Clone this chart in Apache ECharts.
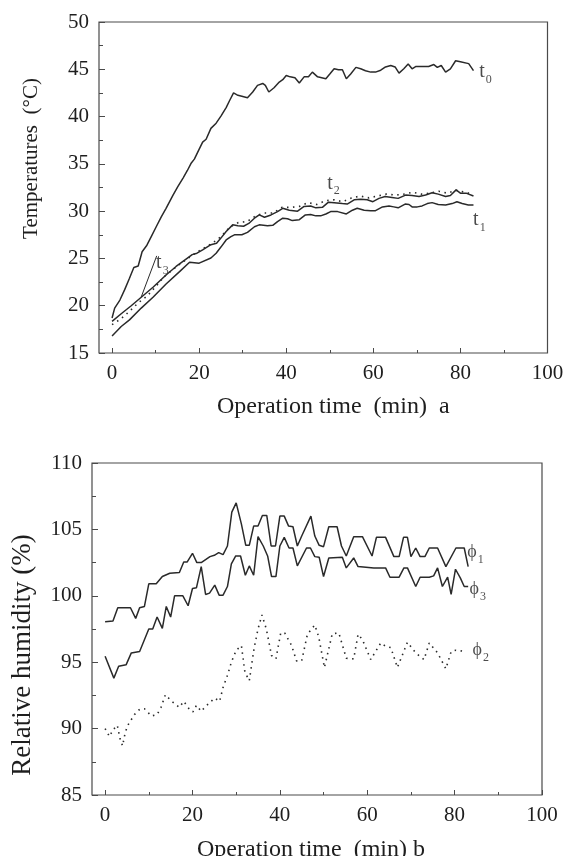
<!DOCTYPE html>
<html>
<head>
<meta charset="utf-8">
<script src="https://cdn.jsdelivr.net/npm/echarts@6/dist/echarts.min.js"></script>
<style>html,body{margin:0;padding:0;background:#fff}#c{width:574px;height:856px}</style>
</head>
<body>
<div id="c"></div>
<script>
// ---------- data ----------
const xTickMajor = [0, 20, 40, 60, 80, 100];
const xTickMinor = [10, 30, 50, 70, 90];
const tempRange = [15, 50];
const humRange = [85, 110];

// Temperatures (°C) vs operation time (min)
const t0 = [[0,18.7],[0.6,19.75],[1.8,20.6],[2.9,21.7],[4,22.9],[5,24.05],[6,24.2],[6.9,25.7],[8,26.4],[9,27.3],[10.2,28.4],[11.3,29.4],[12.4,30.3],[14,31.7],[15.1,32.6],[16.3,33.5],[17.3,34.3],[18.2,35.1],[18.9,35.5],[19.9,36.45],[20.8,37.3],[21.6,37.6],[22.7,38.75],[23.9,39.3],[25,40.05],[26.2,40.95],[27,41.7],[27.9,42.5],[28.9,42.25],[29.8,42.15],[31.1,42],[32.3,42.6],[33.4,43.3],[34.6,43.5],[35.2,43.3],[36,42.6],[37.2,43.05],[38.4,43.65],[39.2,43.9],[40,44.35],[40.9,44.2],[42,44.1],[43,43.55],[44.1,44.2],[45.1,44.2],[46,44.7],[47.2,44.2],[49.1,44.0],[50.1,44.55],[51,45.05],[52,44.95],[52.9,44.95],[53.8,44.0],[54.8,44.5],[56,45.2],[57.1,45.05],[58.2,44.85],[59.4,44.7],[60.5,44.7],[61.7,44.9],[62.8,45.25],[64,45.4],[65,45.25],[65.9,44.6],[67,45.05],[68,45.55],[68.9,45.05],[69.8,45.3],[70.8,45.3],[72.7,45.3],[73.9,45.5],[74.7,45.2],[75.6,45.4],[76.6,44.7],[77.7,45.05],[78.9,45.9],[80,45.8],[81.9,45.6],[83,44.85]];
const t1 = [[0,16.8],[2.1,17.8],[4,18.5],[6.7,19.75],[9.4,20.9],[12.4,22.3],[15.5,23.6],[17.8,24.6],[20,24.5],[22.7,25.05],[23.9,25.55],[25,26.2],[26.2,26.95],[27.3,27.3],[28.1,27.5],[29.8,27.5],[31.1,27.75],[32.7,28.35],[33.8,28.55],[35.7,28.45],[36.9,28.5],[38,28.9],[39.2,29.25],[40.3,29.2],[41.4,29.0],[43,29.1],[44.4,29.6],[45.6,29.65],[46.8,29.5],[47.9,29.5],[49.1,29.7],[50.2,29.95],[51.8,29.95],[53.8,29.7],[55.2,30.1],[56.3,30.3],[57.9,30.1],[59.4,30.05],[60.5,30.05],[62.1,30.45],[63.6,30.55],[64.7,30.45],[65.7,30.35],[67.3,30.75],[68.2,30.7],[68.9,30.45],[70.1,30.45],[71.2,30.55],[72.4,30.8],[73.5,30.9],[74.9,30.7],[76.6,30.65],[78.1,30.8],[79.2,31.0],[80.4,30.8],[81.8,30.65],[83,30.65]];
const t2 = [[0,18.0],[2,18.6],[4,19.4],[6,20.3],[8,21.0],[10,22.0],[12,23.1],[15,24.2],[18,25.2],[20,25.8],[23,26.6],[25,27.3],[27,28.3],[29,28.8],[31,28.9],[33,29.5],[35,29.8],[37,29.8],[39,30.4],[41,30.4],[43,30.5],[45,30.9],[47,30.7],[49,31.1],[51,31.2],[53,31.0],[55,31.4],[57,31.6],[59,31.4],[61,31.6],[63,31.8],[65,31.7],[67,31.8],[69,32.0],[71,31.8],[73,31.9],[75,32.1],[77,31.9],[79,32.2],[81,32.0],[83,31.8]];
const t3 = [[0,18.35],[2.1,19.15],[4.4,20.0],[6.7,20.9],[9.4,21.95],[12.4,23.25],[14.7,24.15],[16.6,24.8],[18.4,25.4],[19.5,25.55],[20.8,25.9],[22.7,26.45],[24,26.6],[25,27.15],[26.2,27.85],[27.7,28.55],[28.9,28.45],[30.2,28.4],[31.4,28.7],[32.7,29.25],[33.8,29.6],[35,29.35],[36.5,29.6],[38,29.95],[39.2,30.3],[40.7,30.1],[42.6,30.0],[44.1,30.5],[45.6,30.55],[46.8,30.35],[48.3,30.4],[49.7,30.95],[51,30.9],[52.9,30.8],[54,30.75],[55.6,31.2],[57.1,31.25],[58.6,31.2],[59.9,31.0],[61.3,31.35],[62.7,31.55],[64.3,31.45],[65.7,31.35],[67.4,31.7],[68.9,31.65],[70.5,31.55],[72,31.7],[73.5,31.95],[74.9,31.8],[76.6,31.55],[77.7,31.65],[79,32.25],[80,31.9],[81.3,31.9],[83,31.6]];

// Relative humidity (%) vs operation time (min)
const phi1 = [[0,98.05],[1.8,98.1],[2.9,99.1],[5.8,99.1],[7,98.3],[7.9,99.1],[9,99.2],[10,100.9],[11.7,100.9],[13.1,101.45],[14.8,101.7],[17,101.75],[18,102.55],[18.8,102.55],[20,103.2],[21,102.5],[22,102.5],[24,102.95],[25,103.05],[26,103.25],[27,103.1],[28,103.75],[29,106.3],[30,107.0],[31.2,105.4],[32.2,103.8],[33,103.8],[34,105.25],[35,105.25],[36,106.05],[37,106.05],[38,103.75],[39,103.75],[40,106.0],[41,106.0],[42,105.25],[43,105.2],[44,103.75],[45,104.5],[47.1,106.0],[48,104.5],[49,103.8],[50,103.7],[51.2,105.2],[53.1,105.2],[54.1,103.75],[55.2,103.0],[56.9,104.45],[58.9,104.45],[61.1,103.0],[62.1,104.4],[64.2,104.4],[66.1,102.95],[67.3,102.95],[68.3,104.4],[69.2,104.4],[70,102.95],[71.1,103.6],[72.1,102.95],[73.2,102.95],[74.2,103.6],[76.1,103.6],[78,102.2],[80.3,103.6],[82.2,103.6],[83.1,102.2]];
const phi2 = [[0,90.0],[1,89.4],[1.8,89.9],[2.8,90.25],[3.4,89.25],[4,88.7],[4.6,89.7],[5.2,90.25],[6.7,91.05],[7.9,91.45],[9,91.5],[10.6,90.95],[11.9,91.05],[12.8,91.6],[13.8,92.55],[15.1,92.1],[17,91.6],[18,92.05],[19.2,91.5],[20.1,91.25],[20.9,91.75],[22,91.3],[22.8,91.6],[23.9,91.95],[25.1,92.3],[26.2,92.05],[27,93.1],[28.1,94.1],[28.9,95.0],[30,95.9],[31.2,96.25],[32,94.25],[33,93.6],[34.1,96.05],[35,97.5],[35.9,98.55],[36.9,97.5],[38.1,95.5],[39.1,95.25],[40.2,97.2],[41.1,97.2],[42.7,96.25],[43.8,95.1],[45,95.1],[46.3,97.1],[48,97.8],[48.9,96.9],[50.2,94.6],[52,97.15],[53.5,97.2],[55.2,95.3],[56.9,95.25],[57.9,97.1],[58.9,96.7],[60.8,95.2],[63.1,96.45],[64.2,96.2],[65.4,96.1],[66.9,94.6],[69.2,96.5],[71.1,95.7],[73,95.2],[74.2,96.45],[76.1,95.7],[78,94.5],[79.2,95.8],[80.3,95.9],[82.6,95.8]];
const phi3 = [[0,95.45],[2,93.8],[3.1,94.7],[4.8,94.8],[6,95.7],[7.9,95.8],[10,97.5],[10.9,97.5],[11.9,98.4],[13.1,97.55],[14,99.2],[15,98.4],[15.9,100.0],[17.8,100.0],[19,99.25],[20,100.55],[20.9,100.6],[22,102.2],[23,100.1],[23.9,100.2],[25.1,100.8],[26.1,100.05],[27,100.05],[28,100.7],[28.9,102.4],[29.9,103.0],[31,103.0],[32.1,101.55],[33,102.25],[34,101.55],[35,104.45],[36.2,103.75],[37.2,103.0],[38.1,101.45],[39.1,101.45],[40,103.75],[41,104.4],[42.1,103.6],[43,103.6],[44,102.25],[46.1,103.6],[47,103.6],[48,102.95],[49,102.9],[50,101.45],[51.2,102.85],[54.3,102.9],[55.2,102.1],[56.9,102.85],[57.9,102.2],[61.5,102.1],[64.2,102.1],[65.2,101.4],[67.3,101.4],[68.4,102.1],[69.2,102.1],[71.1,100.7],[72.1,101.4],[74.2,101.4],[75.2,101.5],[76.1,102.1],[77.2,100.7],[78.4,101.4],[79.2,100.1],[80.2,102.0],[81.3,101.35],[82.2,100.7],[83.1,100.7]];

// curve annotations: [main letter, subscript, x, y]
const tempNotes = [['t','0',84.3,44.72],['t','1',82.9,29.07],['t','2',49.4,32.94],['t','3',10.1,24.5]];
const t3Leader = [[10.25,25.27],[6.68,20.9]];
const humNotes = [['\u03D5','1',82.9,103.29],['\u03D5','3',83.4,100.5],['\u03D5','2',84.1,95.87]];

// ---------- chart ----------
const FONT = '"Liberation Serif", "Times New Roman", "DejaVu Serif", serif';
const INK = '#2a2a2a';
const TXT = '#1e1e1e';
const FRAME = '#4a4a4a';

function xAxes(grid, title, gap, pad) {
  return [{
    gridIndex: grid, type: 'value', min: -3, max: 100, position: 'bottom',
    axisLine: {show: false, onZero: false}, splitLine: {show: false},
    axisTick: {inside: true, length: 5, customValues: xTickMajor, lineStyle: {color: FRAME, width: 1}},
    axisLabel: {customValues: xTickMajor, margin: 10, fontFamily: FONT, fontSize: 21, color: TXT},
    name: title, nameLocation: 'middle', nameGap: gap,
    nameTextStyle: {fontFamily: FONT, fontSize: 24, color: TXT, padding: pad}
  }, {
    gridIndex: grid, type: 'value', min: -3, max: 100, position: 'bottom',
    axisLine: {show: false, onZero: false}, splitLine: {show: false},
    axisTick: {inside: true, length: 3, customValues: xTickMinor, lineStyle: {color: FRAME, width: 1}},
    axisLabel: {show: false}
  }];
}
function yAxis(grid, range, title, gap, fs, pad) {
  return {
    gridIndex: grid, type: 'value', min: range[0], max: range[1], interval: 5,
    axisLine: {show: false, onZero: false}, splitLine: {show: false},
    axisTick: {inside: true, length: 6, lineStyle: {color: FRAME, width: 1}},
    minorTick: {show: true, splitNumber: 2, length: 4, lineStyle: {color: FRAME, width: 1}},
    axisLabel: {margin: 10, fontFamily: FONT, fontSize: 21, color: TXT},
    name: title, nameLocation: 'middle', nameGap: gap, nameRotate: 90,
    nameTextStyle: {fontFamily: FONT, fontSize: fs, color: TXT, padding: pad}
  };
}
function line(data, xi, yi, dotted) {
  return {
    type: 'line', data: data, xAxisIndex: xi, yAxisIndex: yi,
    symbol: 'none', silent: true, animation: false,
    lineStyle: dotted ? {color: INK, width: 1.6, type: [1.5, 4.5]} : {color: INK, width: 1.5}
  };
}
function notes(list, xi, yi, mainSize) {
  return {
    type: 'scatter', xAxisIndex: xi, yAxisIndex: yi, symbolSize: 0.1, silent: true, animation: false,
    itemStyle: {color: 'rgba(0,0,0,0)'},
    data: list.map(n => ({value: [n[2], n[3]], name: '{m|' + n[0] + '}{s|' + n[1] + '}'})),
    label: {
      show: true, position: 'right', distance: 0, formatter: p => p.name,
      rich: {
        m: {fontFamily: FONT, fontSize: mainSize, color: TXT},
        s: {fontFamily: FONT, fontSize: 12, color: TXT, padding: [15, 0, 0, 1]}
      }
    }
  };
}

const chart = echarts.init(document.getElementById('c'), null, {renderer: 'canvas'});
chart.setOption({
  backgroundColor: '#fff',
  animation: false,
  grid: [
    {left: 99, top: 22, width: 448.5, height: 331, outerBoundsMode: 'none', containLabel: false, show: true, borderColor: FRAME, borderWidth: 1.2, backgroundColor: 'transparent'},
    {left: 92, top: 463, width: 450, height: 332, outerBoundsMode: 'none', containLabel: false, show: true, borderColor: FRAME, borderWidth: 1.2, backgroundColor: 'transparent'}
  ],
  xAxis: [].concat(
    xAxes(0, 'Operation time  (min)  a', 42, [0, 0, 0, 20]),
    xAxes(1, 'Operation time  (min) b', 43, [0, 12, 0, 0])
  ),
  yAxis: [
    yAxis(0, tempRange, 'Temperatures  (\u00B0C)', 57, 21, [0, 0, 0, 58]),
    yAxis(1, humRange, 'Relative humidity (%)', 56, 27, [0, 52, 0, 0])
  ],
  series: [
    line(t0, 0, 0, false),
    line(t1, 0, 0, false),
    line(t3, 0, 0, false),
    line(t2, 0, 0, true),
    Object.assign(line(t3Leader, 0, 0, false), {lineStyle: {color: INK, width: 1}}),
    notes(tempNotes, 0, 0, 20),
    line(phi1, 2, 1, false),
    line(phi3, 2, 1, false),
    line(phi2, 2, 1, true),
    notes(humNotes, 2, 1, 18)
  ]
});
</script>
</body>
</html>
